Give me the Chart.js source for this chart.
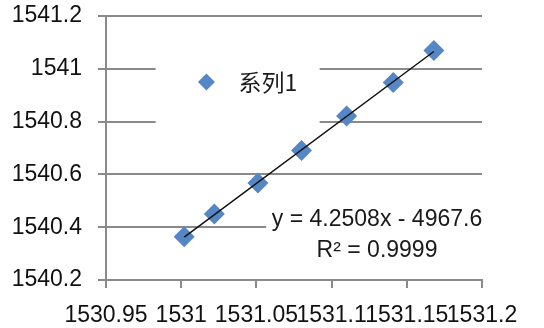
<!DOCTYPE html>
<html>
<head>
<meta charset="utf-8">
<script src="https://cdn.jsdelivr.net/npm/chart.js@4/dist/chart.umd.min.js"></script>
<style>
  html, body { margin: 0; padding: 0; background: #fff; }
  #wrap { width: 544px; height: 328px; position: relative; }
</style>
</head>
<body>
<div id="wrap"><canvas id="c" width="544" height="328"></canvas></div>
<script>
// ---- data ----
const seriesName = '系列1';
const xValues = [1531.002, 1531.022, 1531.051, 1531.080, 1531.110, 1531.141, 1531.168];
const yValues = [1540.364, 1540.450, 1540.567, 1540.691, 1540.821, 1540.948, 1541.069];
const xTicks = [1530.95, 1531, 1531.05, 1531.1, 1531.15, 1531.2];
const xTickLabels = ['1530.95', '1531', '1531.05', '1531.1', '1531.15', '1531.2'];
const yTicks = [1540.2, 1540.4, 1540.6, 1540.8, 1541, 1541.2];
const yTickLabels = ['1540.2', '1540.4', '1540.6', '1540.8', '1541', '1541.2'];
const trendLabel = ['y = 4.2508x - 4967.6', 'R² = 0.9999'];

// least-squares trendline from the data
const n = xValues.length;
const mx = xValues.reduce((a, b) => a + b, 0) / n;
const my = yValues.reduce((a, b) => a + b, 0) / n;
let sxy = 0, sxx = 0;
for (let i = 0; i < n; i++) { sxy += (xValues[i] - mx) * (yValues[i] - my); sxx += (xValues[i] - mx) ** 2; }
const slope = sxy / sxx, icpt = my - slope * mx;
const xMin = Math.min(...xValues), xMax = Math.max(...xValues);
const trendPts = [{x: xMin, y: slope * xMin + icpt}, {x: xMax, y: slope * xMax + icpt}];

const FONT = "'Liberation Sans', Arial, sans-serif";
const GRID = '#8a8a8a';
const BLUE = '#5586C5';

const overlay = {
  id: 'overlay',
  beforeDatasetsDraw(chart) {
    const {ctx, scales: {x, y}} = chart;
    ctx.save();
    ctx.fillStyle = '#fff';
    ctx.fillRect(x.getPixelForValue(1530.983), y.getPixelForValue(1541.09), 164, 80);
    ctx.fillRect(x.getPixelForValue(1531.0565), y.getPixelForValue(1540.49), 240, 58);
    ctx.restore();
  },
  afterDatasetsDraw(chart) {
    const {ctx, scales: {x, y}} = chart;
    ctx.save();
    const lx = x.getPixelForValue(1531.0168), ly = y.getPixelForValue(1540.95);
    ctx.fillStyle = BLUE;
    ctx.beginPath();
    const r = 8.5;
    ctx.moveTo(lx - r, ly); ctx.lineTo(lx, ly - r); ctx.lineTo(lx + r, ly); ctx.lineTo(lx, ly + r);
    ctx.closePath(); ctx.fill();
    ctx.fillStyle = '#1a1a1a';
    ctx.font = "23px 'Noto Sans CJK SC', sans-serif";
    ctx.textBaseline = 'middle';
    ctx.textAlign = 'left';
    ctx.fillText(seriesName, lx + 32, ly);
    ctx.font = '23px ' + FONT;
    ctx.textAlign = 'center';
    const tx = x.getPixelForValue(1531.1302);
    ctx.fillText(trendLabel[0], tx, y.getPixelForValue(1540.43));
    ctx.fillText(trendLabel[1], tx, y.getPixelForValue(1540.31));
    ctx.restore();
  }
};

new Chart(document.getElementById('c'), {
  type: 'scatter',
  data: {
    datasets: [
      {
        label: seriesName,
        data: xValues.map((v, i) => ({x: v, y: yValues[i]})),
        pointStyle: 'rectRot',
        pointRadius: 10.5,
        backgroundColor: BLUE,
        borderColor: BLUE,
        borderWidth: 0,
        order: 1
      },
      {
        type: 'line',
        label: 'trend',
        data: trendPts,
        borderColor: '#111',
        borderWidth: 1.5,
        pointRadius: 0,
        fill: false,
        order: 0
      }
    ]
  },
  plugins: [overlay],
  options: {
    responsive: false,
    animation: false,
    events: [],
    layout: { padding: { left: 0, right: 62, top: 0, bottom: 0 } },
    plugins: { legend: { display: false }, tooltip: { enabled: false } },
    scales: {
      x: {
        type: 'linear',
        min: 1530.95, max: 1531.2,
        afterBuildTicks: s => { s.ticks = xTicks.map(v => ({value: v})); },
        afterFit: s => { s.height = 48; s.paddingLeft = 0; s.paddingRight = 0; },
        ticks: {
          autoSkip: false, maxRotation: 0, minRotation: 0, padding: 14,
          color: '#111', font: { family: FONT, size: 23 },
          callback: (v, i) => xTickLabels[i]
        },
        grid: { drawOnChartArea: false, drawTicks: true, tickLength: 8, color: GRID, lineWidth: 2 },
        border: { display: true, color: GRID, width: 2 }
      },
      y: {
        type: 'linear',
        min: 1540.2, max: 1541.2,
        afterBuildTicks: s => { s.ticks = yTicks.map(v => ({value: v})); },
        afterFit: s => { s.width = 106; s.paddingTop = 16; s.paddingBottom = 0; },
        ticks: {
          autoSkip: false, padding: 16,
          color: '#111', font: { family: FONT, size: 23 },
          callback: (v, i) => yTickLabels[i]
        },
        grid: { drawOnChartArea: true, drawTicks: true, tickLength: 8, color: GRID, lineWidth: 2 },
        border: { display: true, color: GRID, width: 2 }
      }
    }
  }
});
</script>
</body>
</html>
